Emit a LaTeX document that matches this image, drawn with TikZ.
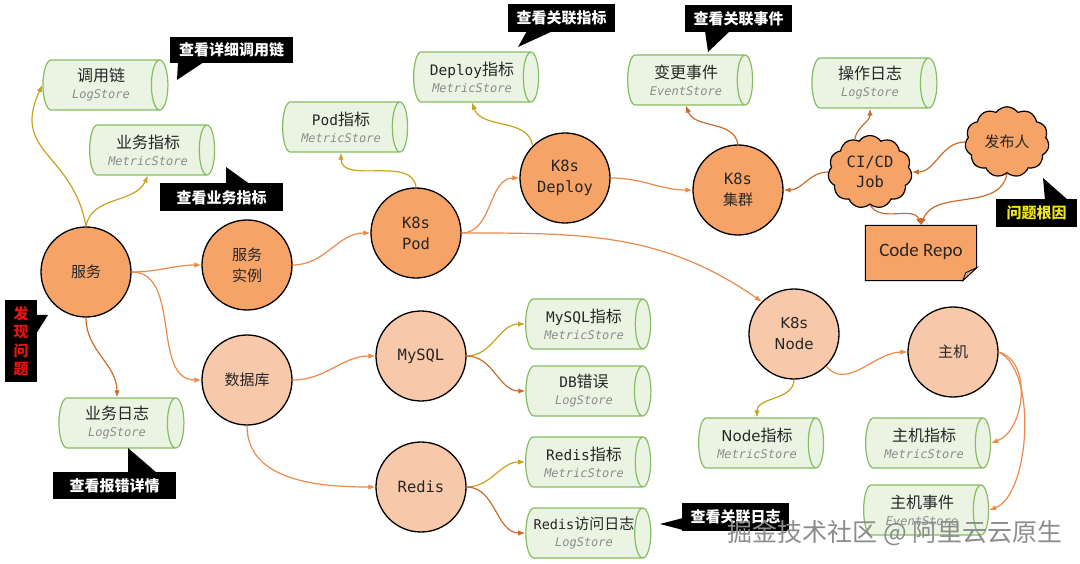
\documentclass[tikz,border=0pt]{standalone}
\usepackage{fontspec}
\setmainfont{Noto Sans CJK SC}
\setmonofont{DejaVu Sans Mono}
\newfontfamily\dv{DejaVu Sans}
\newfontfamily\carl{Carlito}
\usetikzlibrary{shapes.geometric,shapes.symbols,arrows.meta}
\definecolor{corange}{HTML}{F6A368}
\definecolor{cpeach}{HTML}{F7C9AA}
\definecolor{cgreen}{HTML}{86BC62}
\definecolor{cgreenfill}{HTML}{EBF4E3}
\definecolor{cgold}{HTML}{C9A21E}
\definecolor{corl}{HTML}{EC8A4C}
\definecolor{cbrown}{HTML}{C96D2E}
\definecolor{cgray}{HTML}{8C8C8C}
\definecolor{cred}{HTML}{E8150E}
\definecolor{cyel}{HTML}{F0E612}
\definecolor{cfold}{HTML}{D9A882}
\newcommand\mt[1]{{\ttfamily\fontsize{14.5}{18}\selectfont #1}}
\newcommand\sto[2]{#1\\[-1pt]{\ttfamily\itshape\fontsize{12}{14}\selectfont\color{cgray}#2}}
\tikzset{
  bigc/.style={circle, draw=black, line width=1.3pt, fill=corange, minimum size=90pt, inner sep=0pt, align=center, text=black!85, font=\fontsize{15}{21}\selectfont},
  lightc/.style={bigc, fill=cpeach},
  store/.style={cylinder, shape border rotate=0, draw=cgreen, line width=1.2pt, fill=cgreenfill, minimum height=125pt, minimum width=50pt, aspect=0.5, inner sep=0pt, align=center, text=black!85, font=\fontsize{16}{18}\selectfont, xshift=-4pt},
  callout/.style={fill=black, text=white, inner sep=0pt, font=\bfseries\fontsize{15}{18}\selectfont},
  ptr/.style={fill=black},
  lk/.style={line width=1.2pt, -{Latex[length=7pt,width=5.5pt]}},
  gold/.style={lk, draw=cgold},
  ora/.style={lk, draw=corl},
  brn/.style={lk, draw=cbrown},
  cloudn/.style={cloud, cloud puffs=11, cloud puff arc=110, draw=black, line width=1.2pt, fill=corange, inner sep=0pt, align=center, text=black!85}
}
\begin{document}
\begin{tikzpicture}[x=1pt,y=1pt]
\useasboundingbox[fill=white] (0,0) rectangle (1080,-564);

% circles
\node[bigc] (svc) at (86,-272) {服务};
\node[bigc] (inst) at (247,-265) {服务\\实例};
\node[bigc, font=\ttfamily\fontsize{15.5}{21}\selectfont] (pod) at (416,-233) {K8s\\Pod};
\node[bigc, font=\ttfamily\fontsize{15.5}{21}\selectfont] (deploy) at (565,-178) {K8s\\Deploy};
\node[bigc] (cluster) at (738,-190) {{\ttfamily\fontsize{15.5}{21}\selectfont K8s}\\集群};
\node[lightc] (db) at (247,-380) {数据库};
\node[lightc, font=\ttfamily\fontsize{15.5}{21}\selectfont] (mysql) at (421,-356) {MySQL};
\node[lightc, font=\ttfamily\fontsize{15.5}{21}\selectfont] (redis) at (421,-487) {Redis};
\node[lightc, font=\dv\fontsize{15}{21}\selectfont] (knode) at (794,-334) {K8s\\Node};
\node[lightc] (host) at (953,-352) {主机};

% stores
\node[store] (call) at (105,-85) {\sto{调用链}{LogStore}};
\node[store] (bizm) at (152,-150) {\sto{业务指标}{MetricStore}};
\node[store] (ylog) at (121,-423) {\sto{业务日志}{LogStore}};
\node[store] (podm) at (345,-127) {\sto{\mt{Pod}指标}{MetricStore}};
\node[store] (deploym) at (476,-77) {\sto{\mt{Deploy}指标}{MetricStore}};
\node[store] (chg) at (690,-80) {\sto{变更事件}{EventStore}};
\node[store] (oplog) at (874,-83) {\sto{操作日志}{LogStore}};
\node[store] (mysqlm) at (588,-324) {\sto{\mt{MySQL}指标}{MetricStore}};
\node[store] (dberr) at (588,-391) {\sto{\mt{DB}错误}{LogStore}};
\node[store] (redism) at (588,-462) {\sto{\mt{Redis}指标}{MetricStore}};
\node[store] (redislog) at (588,-533) {\sto{\makebox[92pt][c]{{\ttfamily\fontsize{13.5}{18}\selectfont Redis}\fontsize{15}{18}\selectfont 访问日志}}{LogStore}};
\node[store] (nodem) at (761,-443) {\sto{{\dv\fontsize{15}{18}\selectfont Node}指标}{MetricStore}};
\node[store] (hostm) at (928,-443) {\sto{主机指标}{MetricStore}};
\node[store] (hostev) at (926,-510) {\sto{主机事件}{EventStore}};

% clouds
\node[cloudn, minimum width=84pt, minimum height=64pt, font=\ttfamily\fontsize{15.5}{20}\selectfont] (cicd) at (870,-172) {CI/CD\\Job};
\node[cloudn, minimum width=84pt, minimum height=66pt, font=\fontsize{15}{18}\selectfont] (pub) at (1007,-142) {发布人};

% code repo
\node[minimum width=111pt, minimum height=55pt, inner sep=0pt] (repo) at (921,-253) {};
\draw[fill=corange, line width=1pt] (repo.north west) -- (repo.north east) -- ([yshift=13pt]repo.south east) -- ([xshift=-14pt]repo.south east) -- (repo.south west) -- cycle;
\draw[fill=cfold, line width=0.8pt] ([yshift=13pt]repo.south east) -- ([xshift=-11pt,yshift=8pt]repo.south east) -- ([xshift=-14pt]repo.south east) -- cycle;
\node[font=\carl\fontsize{19}{22}\selectfont, text=black!85] at ([yshift=2pt]repo.center) {Code Repo};

% connectors
\draw[gold] (svc.north) to[out=100, in=-115, looseness=1.3] (call.west);
\draw[gold] (svc.north) to[out=80, in=-115] (bizm.south);
\draw[ora] (svc.east) to[out=0, in=180] (inst.west);
\draw[ora] (svc.east) to[out=0, in=180] (db.west);
\draw[brn] (svc.south) to[out=-90, in=90] (ylog.north);
\draw[ora] (inst.east) to[out=0, in=180] (pod.west);
\draw[ora] (db.east) to[out=0, in=180] (mysql.west);
\draw[ora] (db.south) to[out=-90, in=180] (redis.west);
\draw[gold] (pod.north) to[out=95, in=-90] (podm.south);
\draw[ora] (pod.east) to[out=0, in=180] (deploy.west);
\draw[ora] (pod.east) to[out=0, in=145] (knode.north west);
\draw[gold] (deploy.north west) to[out=100, in=-70] (deploym.south);
\draw[ora] (deploy.east) to[out=0, in=180] (cluster.west);
\draw[brn] (cluster.north) to[out=100, in=-70] (chg.south);
\draw[brn] (cicd.west) to[out=180, in=0] (cluster.east);
\draw[brn] (cicd.115) to[out=80, in=-90] (oplog.south);
\draw[brn] (pub.west) to[out=180, in=0] (cicd.east);
\draw[brn] (pub.south) to[out=-100, in=70] (repo.north);
\draw[brn] (cicd.south) to[out=-60, in=110] (repo.north);
\draw[gold] (mysql.east) to[out=0, in=180] (mysqlm.west);
\draw[brn] (mysql.east) to[out=0, in=180] (dberr.west);
\draw[gold] (redis.east) to[out=0, in=180] (redism.west);
\draw[brn] (redis.east) to[out=0, in=180] (redislog.west);
\draw[gold] (knode.south) to[out=-90, in=90] (nodem.north);
\draw[ora] (knode.south east) to[out=-50, in=180] (host.west);
\draw[ora] (host.east) to[out=-15, in=20, looseness=1.0] (hostm.east);
\draw[ora] (host.east) to[out=-25, in=20, looseness=0.7] (hostev.east);

% callouts
\fill[ptr] (178,-62) -- (204,-62) -- (177,-80) -- cycle;
\node[callout, minimum width=123pt, minimum height=26pt] (c1) at (231.5,-50) {查看详细调用链};
\fill[ptr] (226,-167) -- (226,-185) -- (251,-185) -- cycle;
\node[callout, minimum width=123pt, minimum height=28pt] (c2) at (221.5,-197.5) {查看业务指标};
\fill[ptr] (128,-448) -- (128,-473) -- (157,-473) -- cycle;
\node[callout, minimum width=123pt, minimum height=27pt] (c3) at (114.5,-485.5) {查看报错详情};
\fill[ptr] (36,-315) -- (48,-315) -- (36,-334) -- cycle;
\node[callout, text=cred, minimum width=32pt, minimum height=82pt, align=center, font=\bfseries\fontsize{15}{18.5}\selectfont] (c4) at (21,-341) {发\\现\\问\\题};
\fill[ptr] (518,-47) -- (527,-31) -- (553,-31) -- cycle;
\node[callout, minimum width=107pt, minimum height=28pt] (c5) at (561.5,-18) {查看关联指标};
\fill[ptr] (708,-52) -- (705,-31) -- (730,-31) -- cycle;
\node[callout, minimum width=107pt, minimum height=27pt] (c6) at (738.5,-18.5) {查看关联事件};
\fill[ptr] (1043,-178) -- (1045,-200) -- (1068,-200) -- cycle;
\node[callout, text=cyel, minimum width=81pt, minimum height=28pt] (c7) at (1036.5,-213) {问题根因};
\fill[ptr] (660,-524) -- (683,-518) -- (683,-530) -- cycle;
\node[callout, minimum width=107pt, minimum height=28pt] (c8) at (735.5,-517) {查看关联日志};

% watermark
\node[text=cgray, font=\fontsize{25}{28}\selectfont] (wm) at (895,-533) {掘金技术社区 @ 阿里云云原生};
\end{tikzpicture}
\end{document}
